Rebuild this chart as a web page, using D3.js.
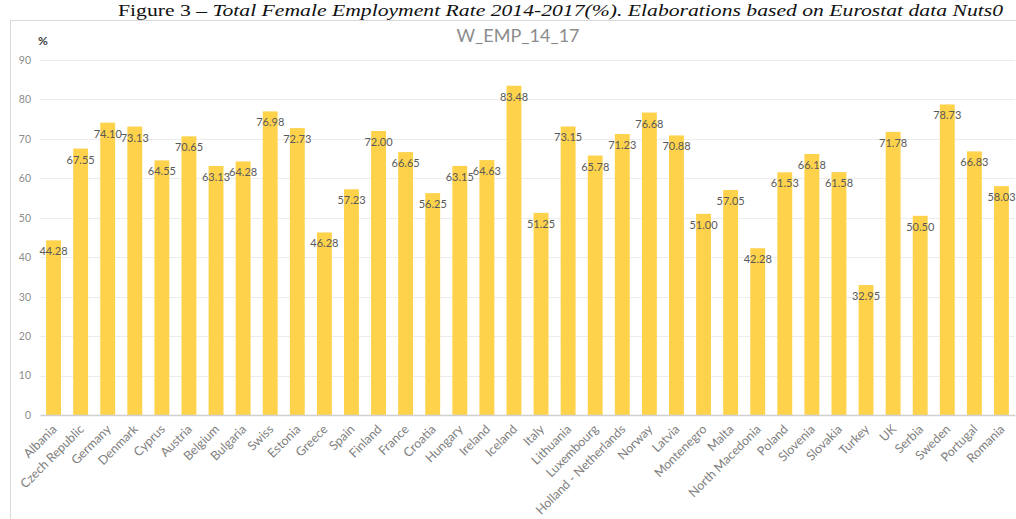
<!DOCTYPE html>
<html>
<head>
<meta charset="utf-8">
<script src="https://cdn.jsdelivr.net/npm/d3@7"></script>
<style>
  html, body { margin: 0; padding: 0; background: #fff; }
  svg { display: block; }
</style>
</head>
<body>
<svg id="chart" width="1016" height="519"></svg>
<script>
// Female employment rate by country, 2014-2017 average (%)
const countries = ["Albania", "Czech Republic", "Germany", "Denmark", "Cyprus", "Austria", "Belgium", "Bulgaria", "Swiss", "Estonia", "Greece", "Spain", "Finland", "France", "Croatia", "Hungary", "Ireland", "Iceland", "Italy", "Lithuania", "Luxembourg", "Holland - Netherlands", "Norway", "Latvia", "Montenegro", "Malta", "North Macedonia", "Poland", "Slovenia", "Slovakia", "Turkey", "UK", "Serbia", "Sweden", "Portugal", "Romania"];
const rates = [44.28, 67.55, 74.10, 73.13, 64.55, 70.65, 63.13, 64.28, 76.98, 72.73, 46.28, 57.23, 72.00, 66.65, 56.25, 63.15, 64.63, 83.48, 51.25, 73.15, 65.78, 71.23, 76.68, 70.88, 51.00, 57.05, 42.28, 61.53, 66.18, 61.58, 32.95, 71.78, 50.50, 78.73, 66.83, 58.03];
const yTicks = [0, 10, 20, 30, 40, 50, 60, 70, 80, 90];

const caption = "Figure 3 – ";
const captionItalic = "Total Female Employment Rate 2014-2017(%). Elaborations based on Eurostat data Nuts0";
const chartTitle = "W_EMP_14_17";
const unitLabel = "%";

const svg = d3.select("#chart");
const font = "Lato, 'Open Sans', sans-serif";

const plot = { left: 40, right: 1015, top: 60, bottom: 415 };

const x = d3.scaleBand()
  .domain(countries)
  .range([plot.left, plot.right])
  .paddingInner(0.45)
  .paddingOuter(0.225);

const y = d3.scaleLinear()
  .domain([0, 90])
  .range([plot.bottom, plot.top]);

// Figure caption above the chart frame
const cap = svg.append("text")
  .attr("x", 118)
  .attr("y", 16)
  .attr("font-family", "'Liberation Serif', 'Times New Roman', serif")
  .attr("font-size", 17)
  .attr("fill", "#111")
  .attr("textLength", 885)
  .attr("lengthAdjust", "spacingAndGlyphs");
cap.append("tspan").text(caption);
cap.append("tspan").attr("font-style", "italic").text(captionItalic);

// Chart frame
svg.append("path")
  .attr("d", `M10.5,${519} V20.5 H1016`)
  .attr("fill", "none")
  .attr("stroke", "#d9d9d9")
  .attr("stroke-width", 1);

// Gridlines
svg.append("g")
  .selectAll("line")
  .data(yTicks.filter(d => d > 0))
  .join("line")
  .attr("x1", plot.left)
  .attr("x2", plot.right)
  .attr("y1", d => Math.round(y(d)) + 0.5)
  .attr("y2", d => Math.round(y(d)) + 0.5)
  .attr("stroke", "#ececec")
  .attr("stroke-width", 1);

// Y axis labels
const yAxis = svg.append("g")
  .attr("transform", `translate(${plot.left - 9},0)`)
  .call(d3.axisLeft(y).tickValues(yTicks).tickSize(0).tickPadding(0));
yAxis.select(".domain").remove();
yAxis.selectAll("text")
  .attr("font-family", font)
  .attr("font-size", 10.5)
  .attr("fill", "#8c8c8c");

// Bars
svg.append("g")
  .selectAll("rect")
  .data(rates)
  .join("rect")
  .attr("x", (d, i) => x(countries[i]))
  .attr("y", d => y(d))
  .attr("width", x.bandwidth())
  .attr("height", d => y(0) - y(d))
  .attr("fill", "#ffd24c");

// Value labels
svg.append("g")
  .selectAll("text")
  .data(rates)
  .join("text")
  .attr("x", (d, i) => x(countries[i]) + x.bandwidth() / 2)
  .attr("y", d => y(d) + 15)
  .attr("text-anchor", "middle")
  .attr("font-family", font)
  .attr("font-size", 11)
  .attr("fill", "#595959")
  .text(d => d.toFixed(2));

// X axis
const xAxis = svg.append("g")
  .attr("transform", `translate(0,${plot.bottom})`)
  .call(d3.axisBottom(x).tickSize(0).tickPadding(0));
xAxis.select(".domain")
  .attr("stroke", "#d0d0d0")
  .attr("stroke-width", 1.5);
xAxis.selectAll("text")
  .attr("font-family", font)
  .attr("font-size", 12.5)
  .attr("fill", "#7f7f7f")
  .attr("text-anchor", "end")
  .attr("dy", 0)
  .attr("transform", "translate(4,15) rotate(-45)");

// Title and unit
svg.append("text")
  .attr("x", 518)
  .attr("y", 42)
  .attr("text-anchor", "middle")
  .attr("font-family", font)
  .attr("font-size", 18)
  .attr("fill", "#8c8c8c")
  .text(chartTitle);

svg.append("text")
  .attr("x", 38)
  .attr("y", 45)
  .attr("font-family", font)
  .attr("font-size", 12)
  .attr("font-weight", "bold")
  .attr("fill", "#404040")
  .text(unitLabel);
</script>
</body>
</html>
